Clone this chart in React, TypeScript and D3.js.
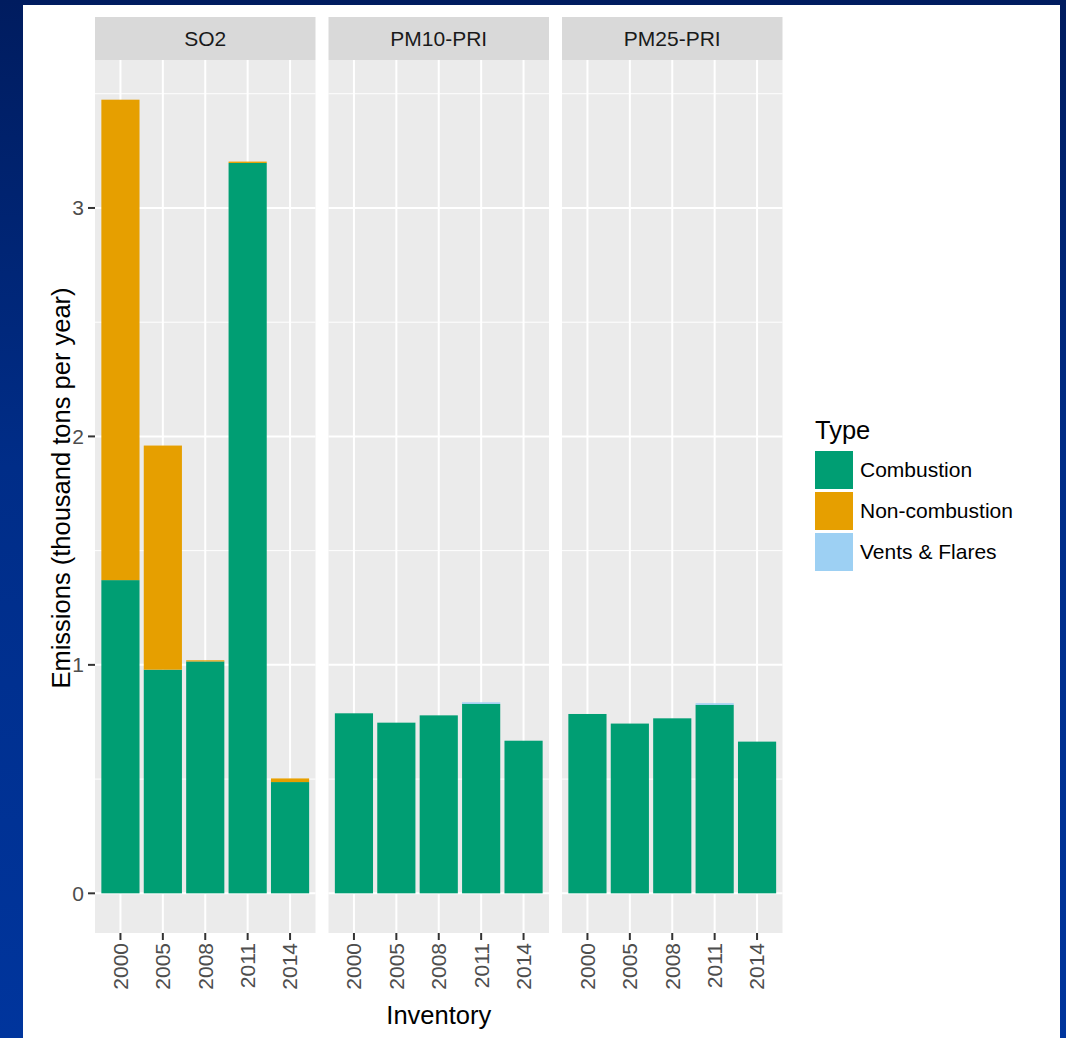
import * as d3 from "d3"
import { useEffect } from "react"

const years = ["2000", "2005", "2008", "2011", "2014"]
const pollutants = ["SO2", "PM10-PRI", "PM25-PRI"]
const types = ["Combustion", "Non-combustion", "Vents & Flares"]
const typeColors = ["#009E73", "#E69F00", "#9DD0F3"]

// values in thousand tons per year, one entry per inventory year
const so2Combustion = [1.371, 0.979, 1.015, 3.197, 0.487]
const so2NonCombustion = [2.103, 0.981, 0.005, 0.006, 0.016]
const so2Vents = [0, 0, 0, 0, 0]
const pm10Combustion = [0.788, 0.747, 0.779, 0.829, 0.668]
const pm10NonCombustion = [0, 0, 0, 0, 0]
const pm10Vents = [0, 0, 0, 0.007, 0]
const pm25Combustion = [0.785, 0.743, 0.766, 0.825, 0.664]
const pm25NonCombustion = [0, 0, 0, 0, 0]
const pm25Vents = [0, 0, 0, 0.007, 0]

const yTicks = [0, 1, 2, 3]
const yMinorTicks = [0.5, 1.5, 2.5, 3.5]

const seriesByPollutant = [
  [so2Combustion, so2NonCombustion, so2Vents],
  [pm10Combustion, pm10NonCombustion, pm10Vents],
  [pm25Combustion, pm25NonCombustion, pm25Vents],
]

const font = "'Liberation Sans', Arial, sans-serif"

const width = 1066
const height = 1038
const panelLeft = 95
const panelWidth = 220.5
const panelStep = 233.5
const stripTop = 17
const panelTop = 60
const panelBottom = 933

export default function App() {
  useEffect(() => {
    document.body.style.margin = "0"
  }, [])

  const tables = seriesByPollutant.map((series) =>
    years.map((year, i) => {
      const row: Record<string, number | string> = { year }
      types.forEach((t, k) => (row[t] = series[k][i]))
      return row
    }),
  )

  const maxTotal = d3.max(tables.flat(), (r) => d3.sum(types, (t) => r[t] as number))!
  const y = d3
    .scaleLinear()
    .domain([-0.05 * maxTotal, maxTotal * 1.05])
    .range([panelBottom, panelTop])

  const x = d3
    .scaleBand()
    .domain(years)
    .range([0, panelWidth])
    .paddingInner(0.1)
    .paddingOuter(0.15)

  const color = d3.scaleOrdinal<string>().domain(types).range(typeColors)
  const stack = d3.stack<Record<string, number | string>>().keys(types)

  return (
    <svg width={width} height={height} style={{ display: "block" }} fontFamily={font}>
      <defs>
        <linearGradient id="bg" x1="0" y1="0" x2="0" y2="1">
          <stop offset="0" stopColor="#001c5f" />
          <stop offset="0.45" stopColor="#002d88" />
          <stop offset="1" stopColor="#00359d" />
        </linearGradient>
      </defs>
      <rect width={width} height={height} fill="url(#bg)" />
      <rect x={23} y={5} width={1037} height={height - 5} fill="#ffffff" />

      {pollutants.map((p, pi) => {
        const left = panelLeft + pi * panelStep
        const stacked = stack(tables[pi])
        return (
          <g key={p} transform={`translate(${left},0)`}>
            <rect x={0} y={stripTop} width={panelWidth} height={panelTop - stripTop} fill="#d9d9d9" />
            <text
              x={panelWidth / 2}
              y={(stripTop + panelTop) / 2}
              dy="0.35em"
              textAnchor="middle"
              fontSize={21}
              fill="#1a1a1a"
            >
              {p}
            </text>
            <rect x={0} y={panelTop} width={panelWidth} height={panelBottom - panelTop} fill="#ebebeb" />
            {yMinorTicks.map((t) => (
              <line key={t} x1={0} x2={panelWidth} y1={y(t)} y2={y(t)} stroke="#ffffff" strokeWidth={1} />
            ))}
            {yTicks.map((t) => (
              <line key={t} x1={0} x2={panelWidth} y1={y(t)} y2={y(t)} stroke="#ffffff" strokeWidth={2} />
            ))}
            {years.map((yr) => {
              const cx = x(yr)! + x.bandwidth() / 2
              return <line key={yr} x1={cx} x2={cx} y1={panelTop} y2={panelBottom} stroke="#ffffff" strokeWidth={2} />
            })}
            {stacked.map((layer) => (
              <g key={layer.key} fill={color(layer.key)}>
                {layer.map((d) =>
                  d[1] - d[0] > 0 ? (
                    <rect
                      key={d.data.year as string}
                      x={x(d.data.year as string)}
                      y={y(d[1])}
                      width={x.bandwidth()}
                      height={y(d[0]) - y(d[1])}
                    />
                  ) : null,
                )}
              </g>
            ))}
            {years.map((yr) => {
              const cx = x(yr)! + x.bandwidth() / 2
              return (
                <g key={yr}>
                  <line x1={cx} x2={cx} y1={panelBottom} y2={panelBottom + 7} stroke="#333333" strokeWidth={2} />
                  <text
                    transform={`translate(${cx},${panelBottom + 10}) rotate(-90)`}
                    dy="0.35em"
                    textAnchor="end"
                    fontSize={21}
                    fill="#4d4d4d"
                  >
                    {yr}
                  </text>
                </g>
              )
            })}
          </g>
        )
      })}

      {yTicks.map((t) => (
        <g key={t}>
          <line x1={panelLeft - 7} x2={panelLeft} y1={y(t)} y2={y(t)} stroke="#333333" strokeWidth={2} />
          <text x={panelLeft - 11} y={y(t)} dy="0.35em" textAnchor="end" fontSize={21} fill="#4d4d4d">
            {t}
          </text>
        </g>
      ))}

      <text
        transform={`translate(70,488) rotate(-90)`}
        textAnchor="middle"
        fontSize={25.5}
        fill="#000000"
      >
        Emissions (thousand tons per year)
      </text>
      <text
        x={panelLeft + (2 * panelStep + panelWidth) / 2}
        y={1024}
        textAnchor="middle"
        fontSize={25.5}
        fill="#000000"
      >
        Inventory
      </text>

      <g transform="translate(815,0)">
        <text x={0} y={439} fontSize={25.5} fill="#000000">
          Type
        </text>
        {types.map((t, i) => (
          <g key={t} transform={`translate(0,${451 + i * 41})`}>
            <rect x={0} y={0} width={38} height={38} fill={color(t)} />
            <text x={45} y={19} dy="0.35em" fontSize={21} fill="#000000">
              {t}
            </text>
          </g>
        ))}
      </g>
    </svg>
  )
}
